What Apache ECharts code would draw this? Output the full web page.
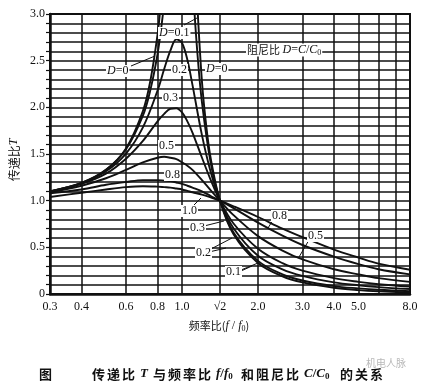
<!DOCTYPE html>
<html><head><meta charset="utf-8">
<script src="https://cdn.jsdelivr.net/npm/echarts@6/dist/echarts.min.js"></script>
<style>html,body{margin:0;padding:0;background:#fff}#c{width:424px;height:383px}</style>
</head><body><div id="c"></div>
<script>
// frequency ratio f/f0 sample points (shared by the damped curves)
const ratio = [0.3,0.4,0.5,0.6,0.7,0.8,0.85,0.9,0.95,1.0,1.05,1.1,1.2,1.3,1.414,1.6,2,2.5,3,4,5,6,8];
// transmissibility T for each damping ratio D
const tD10 = [1.04,1.085,1.12,1.145,1.155,1.15,1.145,1.14,1.13,1.12,1.105,1.09,1.065,1.035,1.0,0.94,0.825,0.70,0.61,0.475,0.39,0.325,0.26];
const tD08 = [1.08,1.12,1.17,1.20,1.22,1.22,1.215,1.21,1.195,1.18,1.16,1.14,1.10,1.05,1.0,0.92,0.765,0.625,0.525,0.40,0.32,0.265,0.21];
const tD05 = [1.09,1.16,1.24,1.33,1.41,1.46,1.47,1.46,1.445,1.41,1.375,1.33,1.22,1.11,1.0,0.845,0.62,0.465,0.37,0.265,0.21,0.17,0.13];
const tD03 = [1.095,1.18,1.29,1.45,1.64,1.85,1.93,1.985,1.99,1.945,1.85,1.73,1.46,1.22,1.0,0.755,0.485,0.33,0.25,0.17,0.13,0.105,0.08];
const tD02 = [1.10,1.185,1.315,1.505,1.785,2.18,2.41,2.61,2.73,2.69,2.51,2.24,1.70,1.305,1.0,0.705,0.41,0.265,0.195,0.125,0.093,0.074,0.053];
// D = 0.1 (runs off the top of the chart)
const ratioD01L = [0.3,0.4,0.5,0.6,0.7,0.75,0.8,0.83,0.85];
const tD01L = [1.10,1.19,1.33,1.55,1.91,2.19,2.57,2.88,3.12];
const ratioD01R = [1.11,1.15,1.2,1.3,1.414,1.6,2,2.5,3,4,5,6,8];
const tD01R = [3.19,2.59,2.05,1.40,1.0,0.66,0.355,0.21,0.145,0.085,0.06,0.045,0.03];
// D = 0 (undamped)
const ratioD0L = [0.3,0.4,0.5,0.6,0.7,0.75,0.8,0.82];
const tD0L = [1.10,1.19,1.33,1.56,1.96,2.29,2.78,3.05];
const ratioD0R = [1.15,1.2,1.25,1.3,1.414,1.6,2,2.5,3,4,5,6,8];
const tD0R = [3.10,2.27,1.78,1.45,1.0,0.64,0.333,0.19,0.125,0.067,0.042,0.029,0.016];
// axis ticks
const xLabelValues = [0.3,0.4,0.6,0.8,1.0,1.41421356,2,3,4,5,8];
const xLabelTexts = ['0.3','0.4','0.6','0.8','1.0','√2','2.0','3.0','4.0','5.0','8.0'];
const xGridValues = [0.3,0.4,0.6,0.8,1.0,1.41421356,2,3,4,5,6,7,8];

const zip = (xs, ys) => xs.map((x, i) => [x, ys[i]]);
const serif = '"Liberation Serif","DejaVu Serif",serif';
const cjk = '"Noto Sans CJK SC","Noto Sans",sans-serif';

function curve(name, xs, ys) {
  return {
    type: 'line', name, data: zip(xs, ys), smooth: 0.35, showSymbol: false,
    lineStyle: { color: '#111', width: 1.9 }, clip: true, silent: true, z: 3
  };
}

const series = [
  curve('D=1.0', ratio, tD10),
  curve('D=0.8', ratio, tD08),
  curve('D=0.5', ratio, tD05),
  curve('D=0.3', ratio, tD03),
  curve('D=0.2', ratio, tD02),
  curve('D=0.1a', ratioD01L, tD01L),
  curve('D=0.1b', ratioD01R, tD01R),
  curve('D=0a', ratioD0L, tD0L),
  curve('D=0b', ratioD0R, tD0R)
];

const richIt = {
  i: { fontFamily: serif, fontStyle: 'italic', fontSize: 12, fill: '#111' },
  n: { fontFamily: serif, fontSize: 12, fill: '#111' },
  s: { fontFamily: serif, fontSize: 8, fill: '#111', padding: [5, 0, 0, 0] },
  c: { fontFamily: cjk, fontSize: 11, fill: '#111' }
};
function txt(x, y, text, extra) {
  return {
    type: 'text', x, y, z: 10, silent: true,
    style: Object.assign({ text, fill: '#111', font: '12px ' + serif, rich: richIt,
      backgroundColor: '#fff', padding: [0, 1],
      textVerticalAlign: 'middle', verticalAlign: 'middle' }, extra || {})
  };
}
function seg(x1, y1, x2, y2) {
  return { type: 'line', z: 9, silent: true, shape: { x1, y1, x2, y2 }, style: { stroke: '#111', lineWidth: 1 } };
}

const graphic = [
  seg(184, 25, 197, 18),
  txt(158, 33, '{i|D}{n|=0.1}'),
  seg(131, 66, 155, 56),
  txt(106, 71, '{i|D}{n|=0}'),
  txt(171, 70, '{n|0.2}'),
  txt(205, 69, '{i|D}{n|=0}'),
  txt(162, 98, '{n|0.3}'),
  txt(158, 146, '{n|0.5}'),
  txt(164, 175, '{n|0.8}'),
  seg(193, 206, 201, 198),
  txt(181, 211, '{n|1.0}'),
  seg(204, 226, 224, 221),
  txt(189, 228, '{n|0.3}'),
  seg(209, 250, 232, 238),
  seg(209, 252, 226, 248),
  txt(195, 253, '{n|0.2}'),
  seg(241, 270, 258, 263),
  seg(241, 271, 252, 266),
  txt(225, 272, '{n|0.1}'),
  seg(273, 220, 268, 228),
  txt(271, 216, '{n|0.8}'),
  seg(309, 240, 299, 257),
  txt(307, 236, '{n|0.5}'),
  txt(246, 50, '{c|阻尼比 }{i|D}{n|=}{i|C}{n|/}{i|C}{s|0}'),
  // axis titles
  {
    type: 'text', x: 14, y: 160, rotation: Math.PI / 2, z: 10, silent: true,
    style: { text: '{c|传递比}{i|T}', rich: { c: { fontFamily: cjk, fontSize: 12, fill: '#111' }, i: { fontFamily: serif, fontStyle: 'italic', fontSize: 12, fill: '#111' } },
      textAlign: 'center', align: 'center', textVerticalAlign: 'middle', verticalAlign: 'middle' }
  },
  {
    type: 'text', x: 219, y: 326, z: 10, silent: true,
    style: { text: '{c|频率比(}{i|f}{n| / }{i|f}{s|0}{c|)}', rich: richIt,
      textAlign: 'center', align: 'center', textVerticalAlign: 'middle', verticalAlign: 'middle' }
  },
  {
    type: 'text', x: 386, y: 363, z: 10, silent: true,
    style: { text: '机电人脉', fontFamily: cjk, fontSize: 10, fill: '#b8b8b8', textAlign: 'center', align: 'center', textVerticalAlign: 'middle', verticalAlign: 'middle' }
  }
];

// caption pieces: [left x, rich text]
const capRich = {
  c: { fontFamily: cjk, fontSize: 13, fontWeight: 'bold', fill: '#111' },
  i: { fontFamily: serif, fontStyle: 'italic', fontSize: 13, fontWeight: 'bold', fill: '#111' },
  n: { fontFamily: serif, fontSize: 13, fontWeight: 'bold', fill: '#111' },
  s: { fontFamily: serif, fontSize: 9, fontWeight: 'bold', fill: '#111', padding: [6, 0, 0, 0] }
};
const captionPieces = [
  [39, '{c|图}'],
  [92, '{c|传}'], [107, '{c|递}'], [122, '{c|比}'],
  [140, '{i|T}'],
  [153, '{c|与}'], [168, '{c|频}'], [183, '{c|率}'], [198, '{c|比}'],
  [216, '{i|f}{n|/}{i|f}{s|0}'],
  [241, '{c|和}'], [256, '{c|阻}'], [271, '{c|尼}'], [286, '{c|比}'],
  [304, '{i|C}{n|/}{i|C}{s|0}'],
  [340, '{c|的}'], [355, '{c|关}'], [370, '{c|系}']
];
captionPieces.forEach(([x, t]) => graphic.push({
  type: 'text', x, y: 374, z: 10, silent: true,
  style: { text: t, rich: capRich, textVerticalAlign: 'middle', verticalAlign: 'middle' }
}));

const chart = echarts.init(document.getElementById('c'), null, { renderer: 'canvas' });
chart.setOption({
  animation: false,
  backgroundColor: '#fff',
  grid: { left: 50, right: 14, top: 14, bottom: 89, show: true, borderColor: '#111', borderWidth: 2, backgroundColor: 'transparent' },
  xAxis: {
    type: 'log', logBase: 10, min: 0.3, max: 8,
    axisLine: { show: true, onZero: false, lineStyle: { color: '#111', width: 2.5 } },
    axisTick: { show: false, customValues: xGridValues },
    axisLabel: {
      customValues: xLabelValues, margin: 7, color: '#111', fontFamily: serif, fontSize: 12,
      formatter: (v) => {
        let best = 0, bd = Infinity;
        xLabelValues.forEach((lv, i) => { const d = Math.abs(lv - v); if (d < bd) { bd = d; best = i; } });
        return xLabelTexts[best];
      }
    },
    splitLine: { show: true, lineStyle: { color: '#111', width: 1.5 } },
    minorTick: { show: false }, minorSplitLine: { show: false }
  },
  yAxis: {
    type: 'value', min: 0, max: 3, interval: 0.1,
    axisLine: { show: true, lineStyle: { color: '#111', width: 2.5 } },
    axisTick: { show: true, length: 4, inside: false, lineStyle: { color: '#111', width: 1.2 } },
    axisLabel: {
      interval: 0, margin: 5, color: '#111', fontFamily: serif, fontSize: 12,
      formatter: (v) => {
        const k = Math.round(v * 10);
        if (k % 5 !== 0) return '';
        return k === 0 ? '0' : (k / 10).toFixed(1);
      }
    },
    splitLine: { show: true, lineStyle: { color: '#111', width: 1.6 } }
  },
  series,
  graphic
});
</script></body></html>
